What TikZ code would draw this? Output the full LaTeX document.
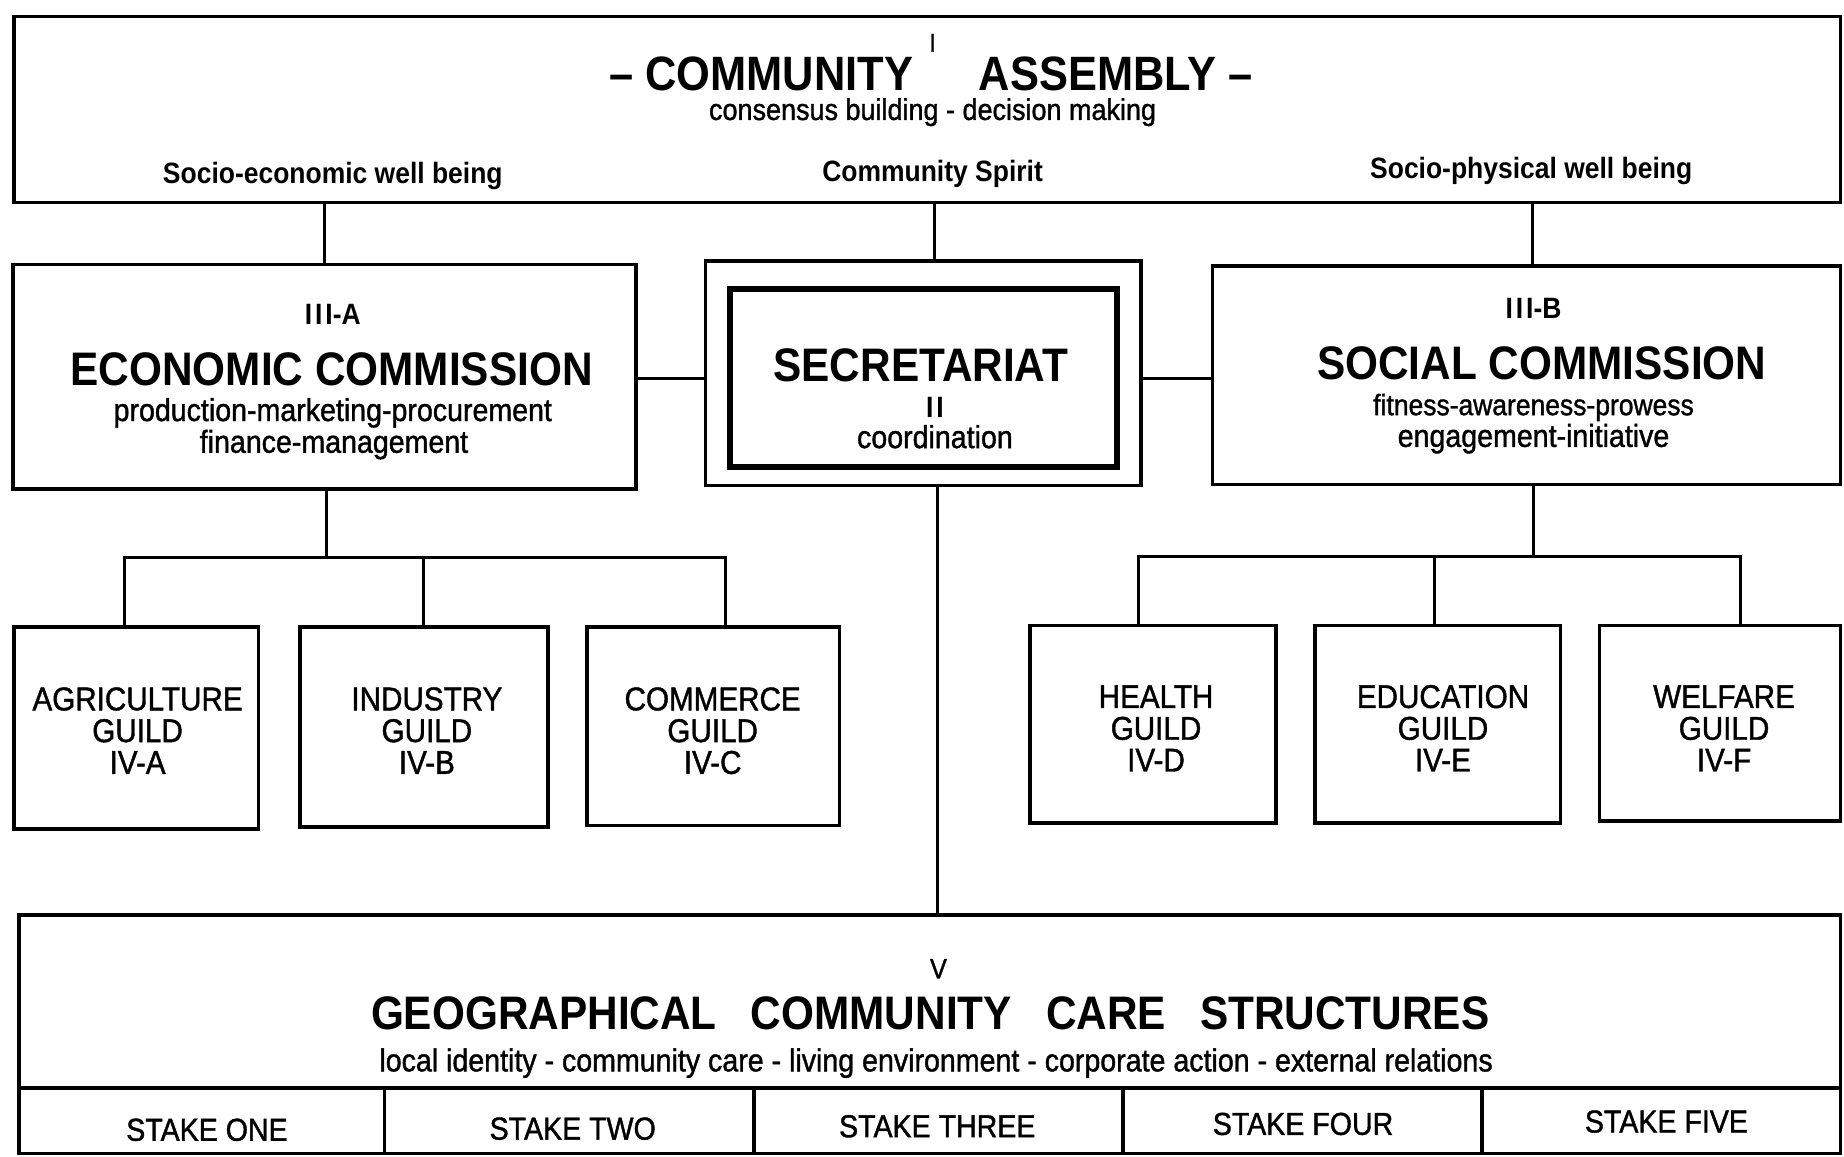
\documentclass[tikz,border=0pt]{standalone}
\usepackage{fontspec}
\setmainfont[FakeStretch=0.9]{Liberation Sans}
\newfontfamily\semibfont[FakeStretch=0.9,FakeBold=1.2]{Liberation Sans}
\begin{document}
\begin{tikzpicture}[x=1pt,y=-1pt,
  box/.style={draw=black, line width=3pt, inner sep=0pt, outer sep=0pt},
  thickbox/.style={box, line width=5pt},
  conn/.style={draw=black, line width=2.5pt, line join=miter},
  bus/.style={draw=black, line width=3pt, line join=miter},
  lbl/.style={inner sep=0pt, outer sep=0pt, anchor=base},
  titletxt/.style={lbl, font=\fontsize{40}{40}\selectfont\bfseries},
  boldlab/.style={lbl, font=\fontsize{25}{25}\selectfont\bfseries},
  desctxt/.style={lbl, font=\fontsize{27}{27}\semibfont},
  romantxt/.style={lbl, font=\fontsize{25}{25}\selectfont\bfseries},
  guildtxt/.style={lbl, font=\fontsize{28}{28}\semibfont},
  staketxt/.style={lbl, font=\fontsize{27}{27}\semibfont}
]
\newcommand{\threelines}[6]{%
  \node[guildtxt] (#1a) at (#2,#3) {#4};
  \node[guildtxt] (#1b) at (#2,#3+27) {#5};
  \node[guildtxt] (#1c) at (#2,#3+54) {#6};}
\useasboundingbox (0,0) rectangle (1568,983);
\fill[white] (0,0) rectangle (1568,983);

% boxes
\node[box, minimum width=1553pt, minimum height=158pt] (top) at (788.5,93) {};
\node[box, minimum width=530pt, minimum height=191pt] (econ) at (276,320.5) {};
\node[box, minimum width=370pt, minimum height=191pt] (secout) at (785,317.5) {};
\node[thickbox, minimum width=329pt, minimum height=151pt] (secin) at (785.5,321.5) {};
\node[box, minimum width=534pt, minimum height=186pt] (social) at (1298,319) {};

\node[box, minimum width=208pt, minimum height=172pt] (gA) at (116,619) {};
\node[box, minimum width=211pt, minimum height=170pt] (gB) at (360.5,618) {};
\node[box, minimum width=215pt, minimum height=169pt] (gC) at (606.5,617.5) {};
\node[box, minimum width=209pt, minimum height=168pt] (gD) at (980.5,616) {};
\node[box, minimum width=209pt, minimum height=168pt] (gE) at (1222.5,616) {};
\node[box, minimum width=205pt, minimum height=166pt] (gF) at (1462.5,615) {};

\node[box, minimum width=1549pt, minimum height=203pt] (geo) at (790.5,879.5) {};
\node[box, minimum width=311pt, minimum height=56pt] (s1) at (171.5,953) {};
\node[box, minimum width=314pt, minimum height=56pt] (s2) at (484,953) {};
\node[box, minimum width=314pt, minimum height=56pt] (s3) at (798,953) {};
\node[box, minimum width=305pt, minimum height=56pt] (s4) at (1107.5,953) {};
\node[box, minimum width=305pt, minimum height=56pt] (s5) at (1412.5,953) {};

% connectors
\coordinate (secx) at (795,0);
\coordinate (socx) at (1303,0);
\coordinate (hy) at (0,322);
\coordinate (gx) at (797,0);
\draw[conn] (econ.north) -- (econ.north |- top.south);
\draw[conn] (secout.north -| secx) -- (top.south -| secx);
\draw[conn] (social.north -| socx) -- (top.south -| socx);
\draw[bus] (econ.east |- hy) -- (secout.west |- hy);
\draw[bus] (secout.east |- hy) -- (social.west |- hy);
\draw[conn] (secout.south -| gx) -- (geo.north -| gx);

\coordinate (ebus) at (278,474);
\coordinate (ebA) at (106,474);
\coordinate (ebB) at (360,474);
\coordinate (ebC) at (617,474);
\draw[conn] (econ.south -| ebus) -- (ebus);
\draw[bus] (ebA |- gA.north) -- (ebA) -- (ebC) -- (ebC |- gC.north);
\draw[conn] (ebB) -- (ebB |- gB.north);

\coordinate (sbus) at (1304,473);
\coordinate (sbD) at (968,473);
\coordinate (sbE) at (1220,473);
\coordinate (sbF) at (1480,473);
\draw[conn] (social.south -| sbus) -- (sbus);
\draw[bus] (sbD |- gD.north) -- (sbD) -- (sbF) -- (sbF |- gF.north);
\draw[conn] (sbE) -- (sbE |- gE.north);

% texts: assembly
\node[lbl, font=\fontsize{22}{22}\semibfont] (tI) at (793,44) {I};
\node[titletxt, font=\fontsize{41}{41}\selectfont\bfseries] (tCA) at (791.5,77) {– COMMUNITY\hspace{56pt}ASSEMBLY –};
\node[desctxt, font=\fontsize{25.5}{25.5}\semibfont] (tcons) at (793,102) {consensus building - decision making};
\node[boldlab] (tse) at (283,156) {Socio-economic well being};
\node[boldlab] (tcs) at (793,154) {Community Spirit};
\node[boldlab] (tsp) at (1302,152) {Socio-physical well being};

% commissions
\node[romantxt] (t3a) at (283,276) {I\kern2.5pt I\kern2.5pt I-A};
\node[titletxt] (tec) at (282,328) {ECONOMIC COMMISSION};
\node[desctxt] (tec1) at (283,358) {production-marketing-procurement};
\node[desctxt] (tec2) at (284,385) {finance-management};

\node[titletxt] (tsec) at (783,324) {SECRETARIAT};
\node[romantxt] (t2) at (795,355) {I\kern2.5pt I};
\node[desctxt] (tsec1) at (795,381) {coordination};

\node[romantxt] (t3b) at (1304,271) {I\kern2.5pt I\kern2.5pt I-B};
\node[titletxt] (tsoc) at (1311,323) {SOCIAL COMMISSION};
\node[desctxt, font=\fontsize{25}{25}\semibfont] (tsoc1) at (1304,353) {fitness-awareness-prowess};
\node[desctxt] (tsoc2) at (1304,380) {engagement-initiative};

% guilds
\threelines{ga}{117}{604}{AGRICULTURE}{GUILD}{IV-A}
\threelines{gb}{363}{604}{INDUSTRY}{GUILD}{IV-B}
\threelines{gc}{606}{604}{COMMERCE}{GUILD}{IV-C}
\threelines{gd}{983}{602}{HEALTH}{GUILD}{IV-D}
\threelines{ge}{1227}{602}{EDUCATION}{GUILD}{IV-E}
\threelines{gf}{1466}{602}{WELFARE}{GUILD}{IV-F}

% geographical
\node[lbl, font=\fontsize{24}{24}\semibfont] (tV) at (798,832) {V};
\node[titletxt] (tgeo) at (791,875) {GEOGRAPHICAL\hspace{29pt}COMMUNITY\hspace{29pt}CARE\hspace{29pt}STRUCTURES};
\node[desctxt] (tgeo1) at (796,911) {local identity - community care - living environment - corporate action - external relations};
\node[staketxt] (ts1) at (176,970) {STAKE ONE};
\node[staketxt] (ts2) at (487,969) {STAKE TWO};
\node[staketxt] (ts3) at (797,967) {STAKE THREE};
\node[staketxt] (ts4) at (1108,965) {STAKE FOUR};
\node[staketxt] (ts5) at (1417,963) {STAKE FIVE};
\end{tikzpicture}
\end{document}
